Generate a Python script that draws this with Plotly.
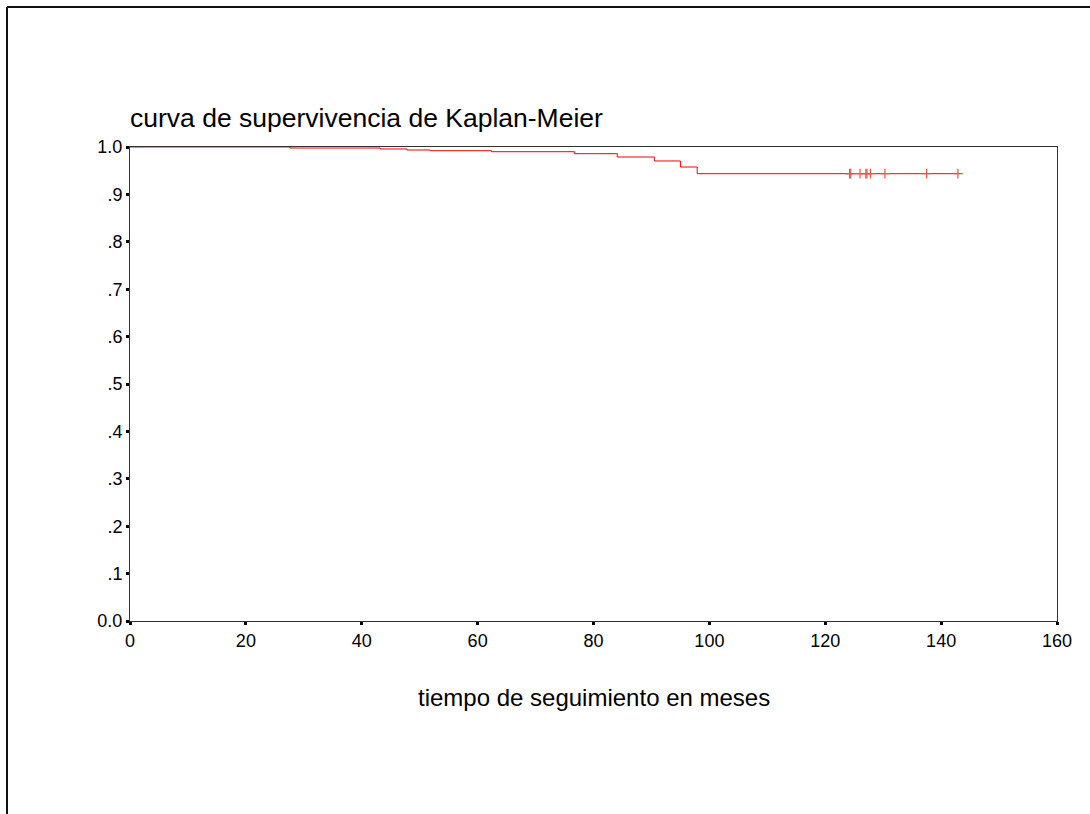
import plotly.graph_objects as go

# Kaplan-Meier step curve: event times (months) and survival after each step
step_times = [0, 27.6, 43.2, 47.8, 51.8, 62.4, 76.7, 84.1, 90.5, 95.0, 97.9, 142.9]
step_surv = [1.0, 0.9979, 0.9958, 0.9937, 0.9922, 0.9901, 0.9859, 0.9789, 0.9705, 0.9578, 0.9437, 0.9437]

# censored observations
censor_times = [124.2, 124.4, 126.0, 127.0, 127.2, 127.8, 130.3, 137.5, 142.9]
censor_surv = [0.9437] * len(censor_times)

y_ticks = [0.0, 0.1, 0.2, 0.3, 0.4, 0.5, 0.6, 0.7, 0.8, 0.9, 1.0]
y_tick_text = ["0.0", ".1", ".2", ".3", ".4", ".5", ".6", ".7", ".8", ".9", "1.0"]
x_ticks = [0, 20, 40, 60, 80, 100, 120, 140, 160]

W, H = 1090, 814
L, R, T, B = 130, 33, 147, 193
pw, ph = W - L - R, H - T - B


def px_to_paper_x(px):
    return (px - L) / pw


def px_to_paper_y(py):
    return (H - B - py) / ph


fig = go.Figure()
fig.add_trace(go.Scatter(
    x=step_times, y=step_surv, mode="lines",
    line=dict(color="#ff0000", width=1, shape="hv"),
    hoverinfo="skip", showlegend=False,
))
fig.add_trace(go.Scatter(
    x=censor_times, y=censor_surv, mode="markers",
    marker=dict(symbol="cross-thin-open", size=7, line=dict(color="#ff0000", width=1.2)),
    showlegend=False,
))

font_family = "Liberation Sans, Arial, sans-serif"

fig.update_xaxes(
    range=[0, 160], tickvals=x_ticks, showgrid=False, zeroline=False,
    showline=True, linecolor="#333333", linewidth=1, mirror=True,
    ticks="outside", ticklen=3, tickwidth=3, tickcolor="#000000",
    tickfont=dict(family=font_family, size=18, color="#000000"),
)
fig.update_yaxes(
    range=[0, 1.0], tickvals=y_ticks, ticktext=y_tick_text, showgrid=False, zeroline=False,
    showline=True, linecolor="#333333", linewidth=1, mirror=True,
    ticks="outside", ticklen=3, tickwidth=3, tickcolor="#000000",
    tickfont=dict(family=font_family, size=18, color="#000000"),
)

# outer frame (top and left edges)
frame_top = px_to_paper_y(7)
frame_left = px_to_paper_x(7)
fig.add_shape(type="line", xref="paper", yref="paper",
              x0=frame_left, x1=px_to_paper_x(1092), y0=frame_top, y1=frame_top,
              line=dict(color="#111111", width=2))
fig.add_shape(type="line", xref="paper", yref="paper",
              x0=frame_left, x1=frame_left, y0=frame_top, y1=px_to_paper_y(816),
              line=dict(color="#111111", width=2))

fig.add_annotation(
    text="curva de supervivencia de Kaplan-Meier", xref="paper", yref="paper",
    x=px_to_paper_x(128), y=px_to_paper_y(118), xanchor="left", yanchor="middle", showarrow=False,
    font=dict(family=font_family, size=26.5, color="#000000"),
)
fig.add_annotation(
    text="tiempo de seguimiento en meses", xref="paper", yref="paper",
    x=px_to_paper_x(594), y=px_to_paper_y(697), xanchor="center", yanchor="middle",
    showarrow=False, font=dict(family=font_family, size=24, color="#000000"),
)

fig.update_layout(
    width=W, height=H, margin=dict(l=L, r=R, t=T, b=B),
    paper_bgcolor="#ffffff", plot_bgcolor="#ffffff",
)

fig.write_html("out.html")
